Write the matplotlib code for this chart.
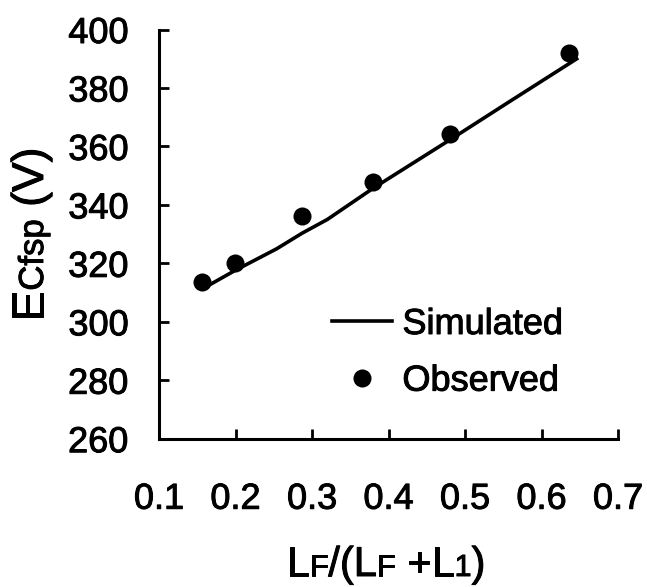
import matplotlib
matplotlib.use("Agg")
import matplotlib.pyplot as plt
import matplotlib.patheffects as pe
from matplotlib.lines import Line2D

plt.rcParams["font.family"] = ["Liberation Sans", "DejaVu Sans"]

# Observed field-spacing voltage vs. length ratio
obs_x = [0.156, 0.199, 0.287, 0.380, 0.480, 0.636]
obs_y = [313.7, 320.0, 336.2, 347.7, 364.2, 391.9]

# Simulated curve
sim_x = [0.155, 0.199, 0.254, 0.287, 0.320, 0.380, 0.480, 0.555, 0.648]
sim_y = [311.0, 317.5, 325.0, 330.3, 335.0, 345.7, 362.2, 374.8, 390.3]

x_ticks = [0.1, 0.2, 0.3, 0.4, 0.5, 0.6, 0.7]
y_ticks = [260, 280, 300, 320, 340, 360, 380, 400]

W, H = 647, 587
fig = plt.figure(figsize=(W / 100, H / 100), dpi=100)
ax = fig.add_axes([159 / W, (H - 438.7) / H, 459 / W, (438.7 - 29.5) / H])

ax.plot(sim_x, sim_y, color="black", lw=2.6, solid_capstyle="butt")
ax.plot(obs_x, obs_y, "o", color="black", ms=13, mew=0)

ax.set_xlim(0.1, 0.7)
ax.set_ylim(260, 400)
ax.set_xticks(x_ticks)
ax.set_yticks(y_ticks)
ax.set_xticklabels([f"{v:.1f}" for v in x_ticks])
ax.set_yticklabels([str(v) for v in y_ticks])

for s in ("top", "right"):
    ax.spines[s].set_visible(False)
for s in ("left", "bottom"):
    ax.spines[s].set_linewidth(2.2)
ax.tick_params(axis="both", direction="in", length=7.5, width=2.0,
               labelsize=26, color="black")
ax.tick_params(axis="y", pad=22)
ax.tick_params(axis="x", pad=31)

# slightly heavier strokes for all lettering
heavy = [pe.withStroke(linewidth=0.7, foreground="black")]
for lab in ax.get_xticklabels() + ax.get_yticklabels():
    lab.set_path_effects(heavy)

handles = [Line2D([], [], color="black", lw=2.6),
           Line2D([], [], marker="o", ls="none", color="black", ms=13, mew=0)]
leg = ax.legend(handles, ["Simulated", "Observed"], loc="upper left",
                bbox_to_anchor=(332 / W, 1 - 307 / H),
                bbox_transform=fig.transFigure, frameon=False,
                fontsize=26, handlelength=1.67, handletextpad=0.28,
                labelspacing=0.6, borderpad=0, borderaxespad=0)
for t in leg.get_texts():
    t.set_path_effects(heavy)

fig.canvas.draw()
renderer = fig.canvas.get_renderer()


def compose(pieces, center, base, vertical=False):
    """Draw text pieces of mixed sizes on one baseline, centred at `center`."""
    texts = []
    pos = 0.0
    for s, size in pieces:
        if vertical:
            t = fig.text(0, 0, s, fontsize=size, rotation=90,
                         rotation_mode="anchor", ha="left", va="baseline")
        else:
            t = fig.text(0, 0, s, fontsize=size, ha="left", va="baseline")
        t.set_path_effects(heavy)
        bb = t.get_window_extent(renderer)
        texts.append((t, pos))
        pos += bb.height if vertical else bb.width
    start = center - pos / 2
    for t, off in texts:
        if vertical:
            t.set_position((base / W, (start + off) / H))
        else:
            t.set_position(((start + off) / W, base / H))


main, sub = 30, 22
compose([("L", main), ("F", sub), ("/(L", main), ("F", sub),
         (" +L", main), ("1", sub), (")", main)],
        center=386, base=H - 576)

compose([("E", 32), ("Cfsp", 25), (" (V)", 32)],
        center=H - 234, base=43, vertical=True)

fig.savefig("out.png", dpi=100)
